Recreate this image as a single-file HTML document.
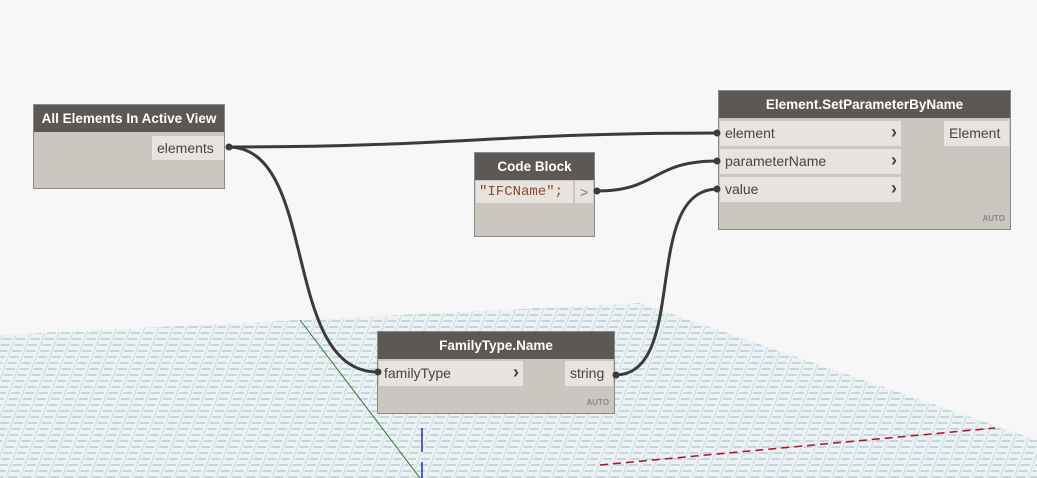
<!DOCTYPE html>
<html><head><style>
body{margin:0;width:1037px;height:478px;overflow:hidden;background:#f7f7f7;font-family:"Liberation Sans",sans-serif;position:relative}
.n{position:absolute;background:#cbc7c0;border:1px solid #8d8a86;box-sizing:border-box}
.h{background:#5b5855;color:#fff;font-weight:bold;font-size:13.5px;text-align:center;height:27px;line-height:27px}
.r{position:absolute;background:#e7e4df;color:#444;font-size:14px;line-height:25px;height:25px;box-sizing:border-box;padding-left:5px}
.ar{position:absolute;right:4px;top:-1px;font-weight:bold;color:#444;font-size:18px}
.auto{position:absolute;right:5px;bottom:6px;font-size:8px;font-weight:bold;color:#888}
svg{position:absolute;left:0;top:0}
</style></head><body>
<svg width="1037" height="478">
<defs>
<pattern id="g" width="14" height="6" patternUnits="userSpaceOnUse" patternTransform="skewX(-20)">
<rect width="14" height="6" fill="#edf2f4"/>
<line x1="0" y1="3" x2="9" y2="3" stroke="#9db8c3" stroke-width="1"/>
<line x1="12" y1="0" x2="12" y2="6" stroke="#bfd1d8" stroke-width="0.8"/>
</pattern>
</defs>
<polygon points="0,335 300,320 640,303 1037,440 1037,478 0,478" fill="url(#g)"/>
<line x1="300" y1="320" x2="420" y2="478" stroke="#2a7a2a" stroke-width="1"/>
<line x1="422" y1="428" x2="422" y2="452" stroke="#2233aa" stroke-width="1.5"/>
<line x1="422" y1="462" x2="422" y2="478" stroke="#2233aa" stroke-width="1.5"/>
<line x1="600" y1="465" x2="995" y2="428" stroke="#b01020" stroke-width="1.5" stroke-dasharray="8,5"/>
</svg>
<div class="n" style="left:33px;top:104px;width:192px;height:85px"><div class="h">All Elements In Active View</div>
<div class="r" style="left:118px;top:31px;width:72px;height:24px;line-height:24px">elements</div></div>
<div class="n" style="left:474px;top:152px;width:121px;height:85px"><div class="h">Code Block</div>
<div class="r" style="left:1px;top:28px;width:97px;height:22px;line-height:22px;font-family:'Liberation Mono',monospace;color:#8a4a2a;padding-left:3px">"IFCName";</div>
<div class="r" style="left:100px;top:28px;width:18px;height:22px;line-height:22px;color:#777;padding-left:5px">&gt;</div></div>
<div class="n" style="left:718px;top:90px;width:293px;height:140px"><div class="h">Element.SetParameterByName</div>
<div class="r" style="left:1px;top:30px;width:181px">element<span class="ar">&#8250;</span></div>
<div class="r" style="left:1px;top:58px;width:181px">parameterName<span class="ar">&#8250;</span></div>
<div class="r" style="left:1px;top:86px;width:181px">value<span class="ar">&#8250;</span></div>
<div class="r" style="left:225px;top:30px;width:65px">Element</div>
<div class="auto">AUTO</div></div>
<div class="n" style="left:377px;top:331px;width:238px;height:83px"><div class="h">FamilyType.Name</div>
<div class="r" style="left:1px;top:29px;width:144px">familyType<span class="ar">&#8250;</span></div>
<div class="r" style="left:187px;top:29px;width:48px">string</div>
<div class="auto">AUTO</div></div>
<svg width="1037" height="478">
<g fill="none" stroke="#3b3b3b" stroke-width="3">
<path d="M228,147 C450,147 500,133 718,133"/>
<path d="M596,191 C660,191 650,161 718,161"/>
<path d="M228,147 C320,147 280,372 378,372"/>
<path d="M615,375 C690,375 640,189 718,189"/>
</g>
<g fill="#3b3b3b"><circle cx="229" cy="147" r="3.5"/><circle cx="717" cy="133" r="3.5"/><circle cx="717" cy="161" r="3.5"/><circle cx="717" cy="189" r="3.5"/><circle cx="597" cy="191" r="3.5"/><circle cx="378" cy="372" r="3.5"/><circle cx="616" cy="375" r="3.5"/></g>
</svg>
</body></html>
